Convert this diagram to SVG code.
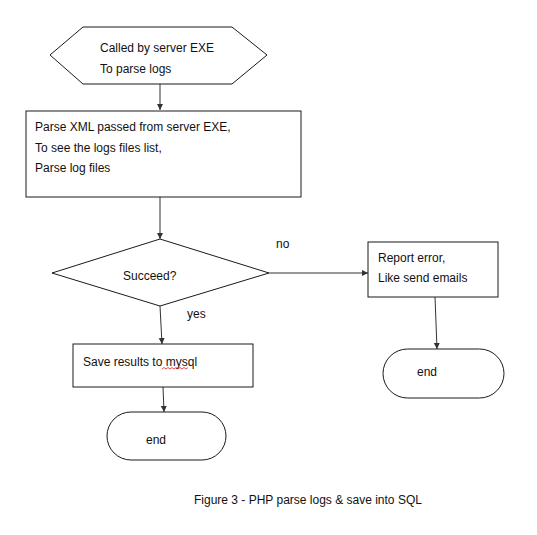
<svg xmlns="http://www.w3.org/2000/svg" width="537" height="535" viewBox="0 0 537 535">
<style>
.s{fill:#fff;stroke:#1a1a1a;stroke-width:1}
.t{font-family:"Liberation Sans",Arial,sans-serif;font-size:12px;fill:#111}
.c{stroke:#333;stroke-width:1;fill:none}
</style>
<defs>
<marker id="a" markerWidth="8" markerHeight="8" refX="6" refY="3" orient="auto" markerUnits="userSpaceOnUse">
<path d="M0,0 L6,3 L0,6 Z" fill="#333"/>
</marker>
</defs>
<rect width="537" height="535" fill="#fff"/>
<g id="connectors">
<line class="c" x1="160" y1="84" x2="160" y2="110" marker-end="url(#a)"/>
<line class="c" x1="160" y1="197" x2="160" y2="239" marker-end="url(#a)"/>
<line class="c" x1="269" y1="273" x2="368" y2="273" marker-end="url(#a)"/>
<line class="c" x1="160" y1="306" x2="162" y2="344" marker-end="url(#a)"/>
<line class="c" x1="435" y1="297" x2="437" y2="349" marker-end="url(#a)"/>
<line class="c" x1="163" y1="387" x2="164" y2="412" marker-end="url(#a)"/>
<text class="t" x="276" y="248">no</text>
<text class="t" x="187" y="318">yes</text>
</g>
<g id="start">
<polygon class="s" points="50,55 83,27 232,27 267,55 232,84 83,84"/>
<text class="t" x="100" y="52">Called by server EXE</text>
<text class="t" x="100" y="73">To parse logs</text>
</g>
<g id="parse">
<rect class="s" x="26" y="111" width="275" height="86"/>
<text class="t" x="35" y="131">Parse XML passed from server EXE,</text>
<text class="t" x="35" y="152">To see the logs files list,</text>
<text class="t" x="35" y="172">Parse log files</text>
</g>
<g id="decision">
<polygon class="s" points="160,239 269,273 160,306 52,273"/>
<text class="t" x="123" y="280">Succeed?</text>
</g>
<g id="report">
<rect class="s" x="368" y="242" width="130" height="55"/>
<text class="t" x="378" y="262">Report error,</text>
<text class="t" x="378" y="282">Like send emails</text>
</g>
<g id="end2">
<rect class="s" x="383" y="349" width="121" height="49" rx="24.5"/>
<text class="t" x="417" y="376">end</text>
</g>
<g id="save">
<rect class="s" x="73" y="344" width="180" height="43"/>
<text class="t" x="83" y="366">Save results to mysql</text>
<path d="M162,369 l2,-1.5 l2,1.5 l2,-1.5 l2,1.5 l2,-1.5 l2,1.5 l2,-1.5 l2,1.5 l2,-1.5 l2,1.5 l2,-1.5 l2,1.5 l2,-1.5" fill="none" stroke="#d22" stroke-width="0.8"/>
</g>
<g id="end1">
<rect class="s" x="107" y="412" width="119" height="48" rx="24"/>
<text class="t" x="146" y="444">end</text>
</g>
<text class="t" x="194" y="504">Figure 3 - PHP parse logs &amp; save into SQL</text>
</svg>
